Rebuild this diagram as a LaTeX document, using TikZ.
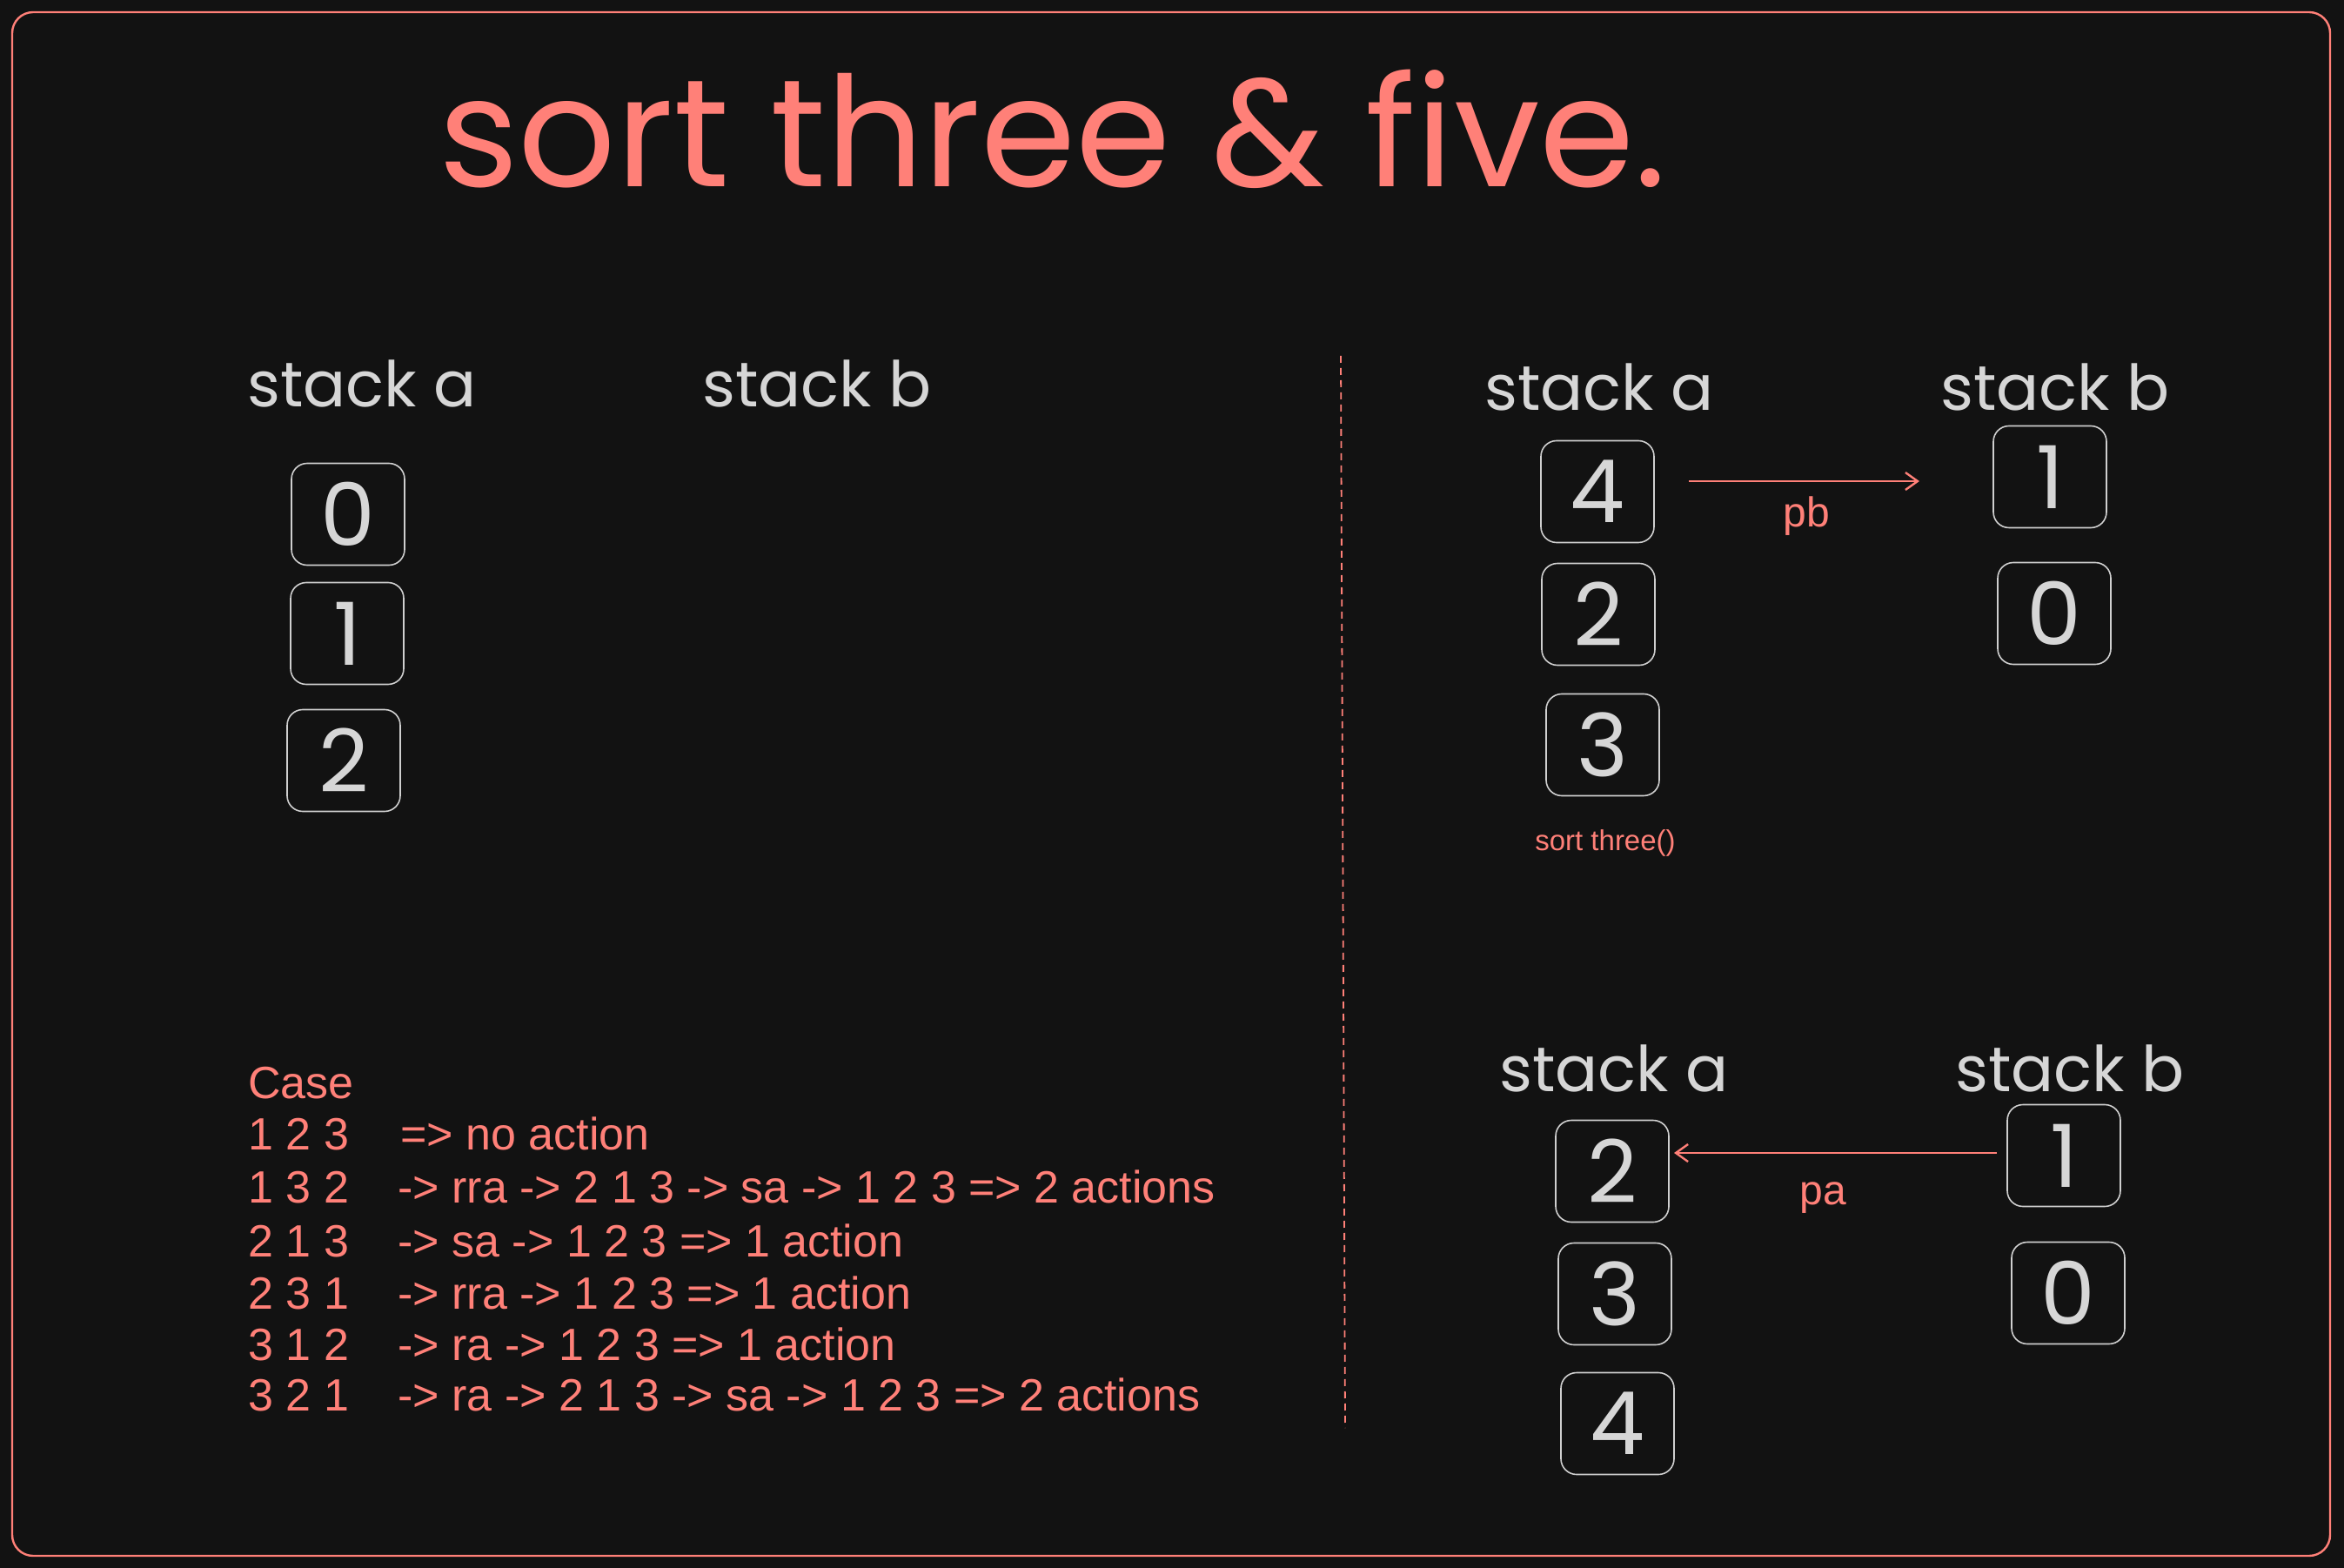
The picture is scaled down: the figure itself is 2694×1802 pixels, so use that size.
\documentclass[tikz,border=0pt]{standalone}
\usepackage{fontspec}
\setmainfont{Liberation Sans}
\newfontfamily\hand{Poppins}
\usetikzlibrary{arrows.meta}
\definecolor{bg}{HTML}{121212}
\definecolor{salmon}{HTML}{FF8078}
\definecolor{chalk}{HTML}{D6D6D6}
\definecolor{boxgray}{HTML}{CFCFCF}
\tikzset{
  stackbox/.style={draw=boxgray, line width=0.8pt, rounded corners=9pt, fill=bg,
    minimum width=65pt, minimum height=58.5pt, inner sep=0pt, text=chalk,
    font=\hand\fontsize{50}{56}\selectfont},
  stacklabel/.style={anchor=base west, inner sep=0pt, text=chalk,
    font=\hand\fontsize{36.3}{42}\selectfont},
  casetext/.style={anchor=base west, inner sep=0pt, text=salmon,
    font=\fontsize{26}{31}\selectfont},
  oplabel/.style={inner sep=0pt, text=salmon, font=\fontsize{24}{28}\selectfont},
  moveline/.style={draw=salmon, line width=1.2pt, -{Straight Barb[length=7pt,width=10pt,line width=1.2pt]}},
}
\begin{document}
\begin{tikzpicture}[x=0.5pt,y=-0.5pt]
\useasboundingbox (0,0) rectangle (2694,1802);
\fill[bg] (0,0) rectangle (2694,1802);
\draw[salmon, line width=1.2pt, rounded corners=12pt] (14,14) rectangle (2678,1788);
% title
\node[anchor=base, inner sep=0pt, text=salmon, font=\hand\fontsize{88}{96}\selectfont] (title) at (1210,215) {sort three \& five.};
% left section
\node[stacklabel] (la) at (284,468) {stack a};
\node[stacklabel] (lb) at (807,468) {stack b};
\node[stackbox] (L0) at (400,591) {0};
\node[stackbox] (L1) at (399,728) {1};
\node[stackbox] (L2) at (395,874) {2};
% divider
\coordinate (dtop) at (1541,409);
\coordinate (dbot) at (1546,1641);
\draw[salmon, line width=0.9pt, dash pattern=on 4pt off 3pt] (dtop) -- (dbot);
% top right
\node[stacklabel] (ta) at (1706,472) {stack a};
\node[stacklabel] (tb) at (2230,472) {stack b};
\node[stackbox] (A4) at (1836,565) {4};
\node[stackbox] (A2) at (1837,706) {2};
\node[stackbox] (A3) at (1842,856) {3};
\node[stackbox] (B1) at (2356,548) {1};
\node[stackbox] (B0) at (2361,705) {0};
\node[oplabel, font=\fontsize{16.5}{20}\selectfont] (st) at (1845,969) {sort three()};
\coordinate (pbs) at (1941,553);
\coordinate (pbe) at (2206,553);
\draw[moveline] (pbs) -- (pbe);
\node[oplabel] (pb) at (2076,593) {pb};
% bottom right
\node[stacklabel] (ba) at (1723,1254) {stack a};
\node[stacklabel] (bb) at (2247,1254) {stack b};
\node[stackbox] (C2) at (1853,1346) {2};
\node[stackbox] (C3) at (1856,1487) {3};
\node[stackbox] (C4) at (1859,1636) {4};
\node[stackbox] (D1) at (2372,1328) {1};
\node[stackbox] (D0) at (2377,1486) {0};
\coordinate (pas) at (2295,1325);
\coordinate (pae) at (1924,1325);
\draw[moveline] (pas) -- (pae);
\node[oplabel] (pa) at (2095,1377) {pa};
% cases
\node[casetext] (case) at (285,1262) {Case};
\node[casetext] (c1) at (285,1321) {1 2 3};
\node[casetext] (c1r) at (460,1321) {=> no action};
\node[casetext] (c2) at (285,1382) {1 3 2};
\node[casetext] (c2r) at (457,1382) {-> rra -> 2 1 3 -> sa -> 1 2 3 => 2 actions};
\node[casetext] (c3) at (285,1444) {2 1 3};
\node[casetext] (c3r) at (457,1444) {-> sa -> 1 2 3 => 1 action};
\node[casetext] (c4) at (285,1504) {2 3 1};
\node[casetext] (c4r) at (457,1504) {-> rra -> 1 2 3 => 1 action};
\node[casetext] (c5) at (285,1563) {3 1 2};
\node[casetext] (c5r) at (457,1563) {-> ra -> 1 2 3 => 1 action};
\node[casetext] (c6) at (285,1621) {3 2 1};
\node[casetext] (c6r) at (457,1621) {-> ra -> 2 1 3 -> sa -> 1 2 3 => 2 actions};
\end{tikzpicture}
\end{document}
